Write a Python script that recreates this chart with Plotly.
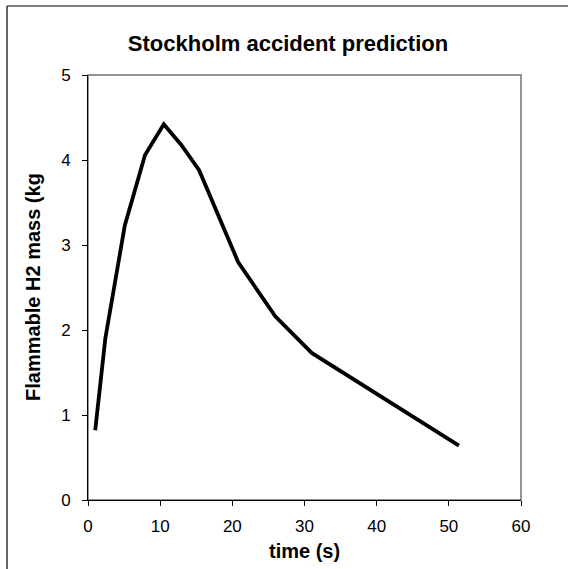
import plotly.graph_objects as go

# Data
time_s = [1.0, 2.4, 5.1, 7.9, 10.5, 12.9, 15.4, 20.8, 25.95, 31.0, 51.4]
h2_mass_kg = [0.82, 1.9, 3.23, 4.06, 4.42, 4.18, 3.88, 2.80, 2.16, 1.73, 0.64]

title_text = "Stockholm accident prediction"
x_title = "time (s)"
y_title = "Flammable H2 mass (kg"
x_ticks = [0, 10, 20, 30, 40, 50, 60]
y_ticks = [0, 1, 2, 3, 4, 5]

W, H = 568, 569
L, R, T, B = 88, 47, 75, 69
pw, ph = W - L - R, H - T - B


def px_to_paper(px, py):
    return (px - L) / pw, (H - B - py) / ph


FONT = "Arial, Liberation Sans, sans-serif"

fig = go.Figure()
fig.add_trace(go.Scatter(
    x=time_s, y=h2_mass_kg, mode="lines",
    line=dict(color="black", width=3.8),
    showlegend=False, hoverinfo="skip",
))

# outer chart-area border (left and top visible)
x0p, y0p = px_to_paper(7, 6)
x1p, _ = px_to_paper(W + 10, 6)
_, y1p = px_to_paper(7, H + 10)
shapes = [
    dict(type="line", xref="paper", yref="paper", x0=x0p, y0=y0p, x1=x1p, y1=y0p,
         line=dict(color="black", width=1.2)),
    dict(type="line", xref="paper", yref="paper", x0=x0p, y0=y0p, x1=x0p, y1=y1p,
         line=dict(color="black", width=1.2)),
    # plot-area frame (grey)
    dict(type="rect", xref="paper", yref="paper", x0=0, y0=0, x1=1, y1=1,
         line=dict(color="#707070", width=1.5), layer="below"),
]

annotations = [
    dict(text=f"<b>{x_title}</b>", xref="paper", yref="paper",
         x=px_to_paper(304, 0)[0], y=px_to_paper(0, 551)[1],
         xanchor="center", yanchor="middle", showarrow=False,
         font=dict(family=FONT, size=20, color="black")),
    dict(text=f"<b>{y_title}</b>", xref="paper", yref="paper",
         x=px_to_paper(33, 0)[0], y=px_to_paper(0, 287)[1],
         xanchor="center", yanchor="middle", showarrow=False, textangle=-90,
         font=dict(family=FONT, size=20, color="black")),
]

fig.update_layout(
    width=W, height=H,
    margin=dict(l=L, r=R, t=T, b=B, pad=0),
    paper_bgcolor="white", plot_bgcolor="white",
    title=dict(text=f"<b>{title_text}</b>", x=288 / W, xref="container",
               xanchor="center", y=1 - 43 / H, yref="container", yanchor="middle",
               font=dict(family=FONT, size=22, color="black")),
    shapes=shapes,
    annotations=annotations,
    xaxis=dict(range=[0, 60], tickvals=x_ticks, ticks="outside", ticklen=5,
               tickcolor="black", tickwidth=1, showline=True, linecolor="black",
               linewidth=1, showgrid=False, zeroline=False, fixedrange=True,
               ticklabelstandoff=6,
               tickfont=dict(family=FONT, size=17, color="black")),
    yaxis=dict(range=[0, 5], tickvals=y_ticks, ticks="outside", ticklen=5,
               tickcolor="black", tickwidth=1, showline=True, linecolor="black",
               linewidth=1, showgrid=False, zeroline=False, fixedrange=True,
               ticklabelstandoff=8,
               tickfont=dict(family=FONT, size=17, color="black")),
)

fig.write_html("out.html", config={"displayModeBar": False})
